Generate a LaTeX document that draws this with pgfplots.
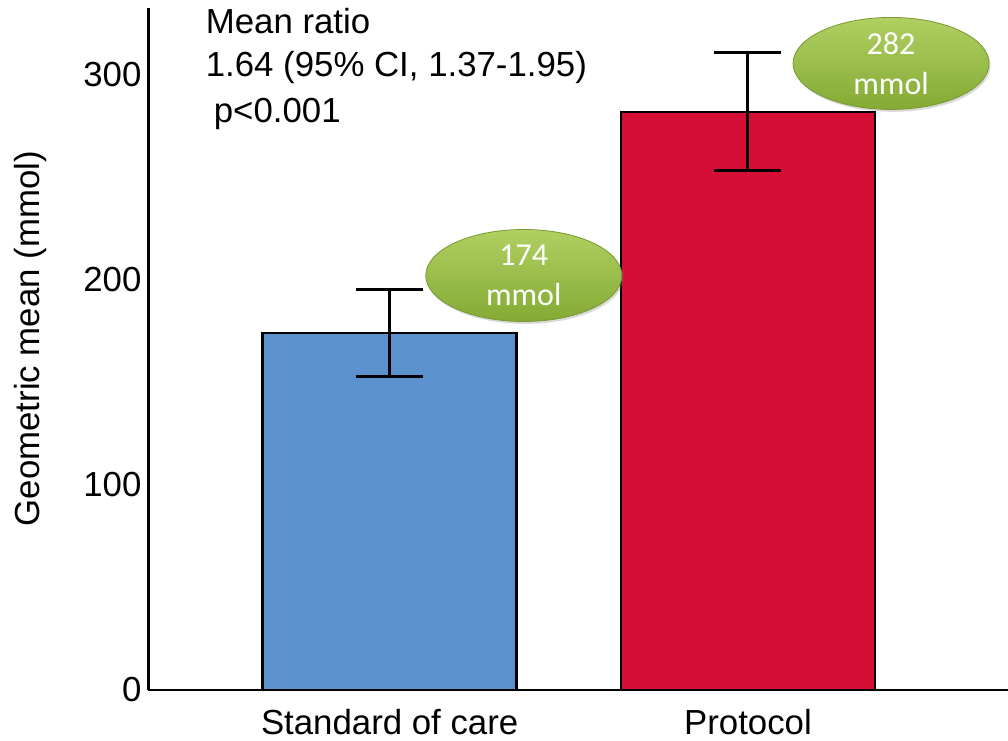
\documentclass[border=0pt]{standalone}
\usepackage{fontspec}
\setmainfont{Liberation Sans}
\newfontfamily\calibri{Carlito}
\usepackage{pgfplots}
\pgfplotsset{compat=1.18}
\usetikzlibrary{shapes.geometric,shadows}
\definecolor{barblue}{RGB}{91,146,205}
\definecolor{barred}{RGB}{213,14,53}
\definecolor{gtop}{RGB}{176,208,98}
\definecolor{gmid}{RGB}{160,196,76}
\definecolor{gbot}{RGB}{132,170,52}
\begin{document}
\begin{tikzpicture}
\useasboundingbox (0,0) rectangle (504pt,370pt);
\begin{axis}[
 at={(74.25pt,25pt)}, anchor=south west,
 scale only axis, width=429.75pt, height=341pt,
 xmin=0, xmax=860, ymin=0, ymax=332.2,
 axis lines=left, axis line style={-, line width=1.3pt, black},
 major tick length=0pt,
 ytick={0,100,200,300},
 xtick={241.3,599.8}, xticklabels={Standard of care, Protocol},
 ticklabel style={font=\fontsize{17.4}{20}\selectfont},
 /pgf/number format/assume math mode=true,
 xticklabel style={yshift=-6pt},
 ylabel={Geometric mean (mmol)},
 every axis y label/.style={at={(axis description cs:-0.137,0.515)}, rotate=90, anchor=center, font=\fontsize{17.4}{20}\selectfont},
 clip=false,
]
\addplot[ybar, bar width=127pt, fill=barblue, draw=black, line width=1.2pt, bar shift=0pt]
  coordinates {(241.3,174)};
\addplot[ybar, bar width=127pt, fill=barred, draw=black, line width=1.2pt, bar shift=0pt]
  coordinates {(599.8,281.5)};
\addplot[draw=none, mark=none,
  error bars/.cd, y dir=both, y explicit, error mark=|,
  error bar style={line width=1.5pt, black, solid},
  error mark options={line width=1.5pt, mark size=16.75pt, black}]
  coordinates {(241.3,174) += (0,21.2) -= (0,21.1) (599.8,281.5) += (0,29.1) -= (0,28.5)};

\node[anchor=base west, inner sep=0pt, font=\fontsize{17.4}{20}\selectfont] at (axis cs:57,320) {Mean ratio};
\node[anchor=base west, inner sep=0pt, font=\fontsize{17.4}{20}\selectfont] at (axis cs:57,298.6) {1.64 (95\% CI, 1.37-1.95)};
\node[anchor=base west, inner sep=0pt, font=\fontsize{17.4}{20}\selectfont] at (axis cs:65,276.2) {p<0.001};

\node[ellipse, minimum width=98pt, minimum height=46pt, inner sep=0pt,
  top color=gtop, middle color=gmid, bottom color=gbot, draw=gbot!90!black, line width=0.4pt,
  drop shadow={shadow xshift=0.8pt, shadow yshift=-1.2pt, opacity=0.3},
  text=white, font=\calibri\fontsize{16}{20}\selectfont, align=center]
  at (axis cs:375.5,201.9) {174\\mmol};
\node[ellipse, minimum width=98pt, minimum height=46pt, inner sep=0pt,
  top color=gtop, middle color=gmid, bottom color=gbot, draw=gbot!90!black, line width=0.4pt,
  drop shadow={shadow xshift=0.8pt, shadow yshift=-1.2pt, opacity=0.3},
  text=white, font=\calibri\fontsize{16}{20}\selectfont, align=center]
  at (axis cs:743,305.2) {282\\mmol};
\end{axis}
\end{tikzpicture}
\end{document}
